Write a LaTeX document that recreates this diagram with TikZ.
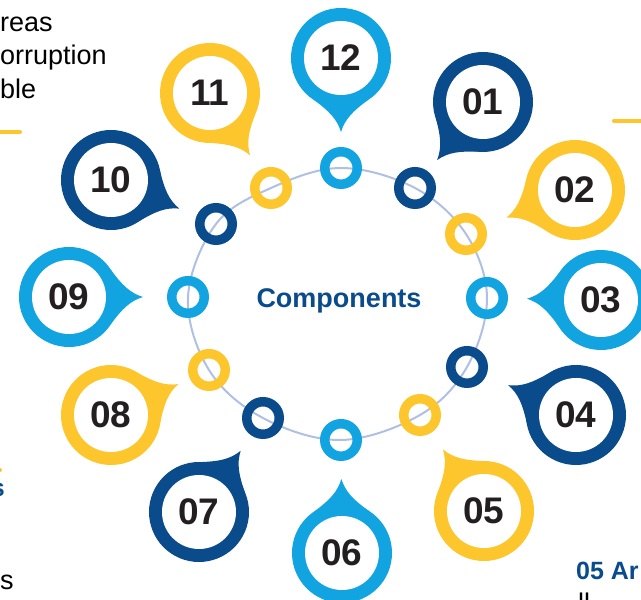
\documentclass[tikz,border=0pt]{standalone}
\usepackage{fontspec}
\setmainfont{Liberation Sans}
\definecolor{lblue}{HTML}{12A4E0}
\definecolor{navy}{HTML}{0A4B8C}
\definecolor{gold}{HTML}{FDC62C}
\definecolor{ringline}{HTML}{AFC0E2}
\definecolor{numink}{HTML}{231F20}
\tikzset{
  pinnum/.style={inner sep=0pt, text=numink, font=\fontsize{37}{37}\selectfont\bfseries},
  ringdot/.style={circle, draw=#1, line width=9.5pt, minimum size=32.5pt, inner sep=0pt},
  bodytext/.style={inner sep=0pt, text=black, font=\fontsize{27}{27}\selectfont},
  headtext/.style={inner sep=0pt, text=navy, font=\fontsize{25}{25}\selectfont\bfseries},
  rule/.style={draw=gold, line width=4pt, line cap=round},
}
% numbered pin: name, x, y, colour, label, target x, target y
% (the tail points at the target marker on the ring)
\newcommand\pinmark[7]{%
  \pgfmathsetmacro\pinang{atan2(#7-#3,#6-#2)}
  \begin{scope}[shift={(#2,#3)}, rotate=\pinang]
    \fill[#4] (0,0) circle[radius=50pt];
    \fill[#4] (74,0) .. controls (61,4) and (53,12) .. (42,27)
      -- (42,-27) .. controls (53,-12) and (61,-4) .. (74,0) -- cycle;
    \fill[white] (0,0) circle[radius=37pt];
  \end{scope}
  \node[pinnum] (#1) at (#2,#3) {#5};
}
\begin{document}
\begin{tikzpicture}[x=1pt, y=1pt]
  \useasboundingbox (0,0) rectangle (641,600);
  \clip (0,0) rectangle (641,600);

  % marker positions on the ring
  \coordinate (c12) at (341,432);
  \coordinate (c01) at (415,412);
  \coordinate (c02) at (466,366);
  \coordinate (c03) at (487,302);
  \coordinate (c04) at (467,233);
  \coordinate (c05) at (420,185);
  \coordinate (c06) at (341,160);
  \coordinate (c07) at (263,182);
  \coordinate (c08) at (209,230);
  \coordinate (c09) at (188,303);
  \coordinate (c10) at (216,376);
  \coordinate (c11) at (271,412);

  % ring through the markers
  \draw[ringline, line width=2pt] plot[smooth cycle, tension=0.6]
    coordinates {(c12) (c01) (c02) (c03) (c04) (c05) (c06) (c07) (c08) (c09) (c10) (c11)};

  % small markers
  \foreach \k/\c in {12/lblue,01/navy,02/gold,03/lblue,04/navy,05/gold,06/lblue,07/navy,08/gold,09/lblue,10/navy,11/gold}{
    \node[ringdot=\c] (dot\k) at (c\k) {};
  }

  % numbered pins
  \pinmark{p12}{341}{542}{lblue}{12}{341}{432}
  \pinmark{p01}{483}{498}{navy}{01}{415}{412}
  \pinmark{p02}{575}{410}{gold}{02}{466}{366}
  \pinmark{p03}{601}{300}{lblue}{03}{487}{302}
  \pinmark{p04}{576}{185}{navy}{04}{467}{233}
  \pinmark{p05}{484}{89}{gold}{05}{420}{185}
  \pinmark{p06}{342}{47}{lblue}{06}{341}{160}
  \pinmark{p07}{199}{88}{navy}{07}{263}{182}
  \pinmark{p08}{111}{185}{gold}{08}{209}{230}
  \pinmark{p09}{69}{303}{lblue}{09}{188}{303}
  \pinmark{p10}{111}{420}{navy}{10}{216}{376}
  \pinmark{p11}{210}{507}{gold}{11}{271}{412}

  % centre title
  \node[inner sep=0pt, text=navy, font=\fontsize{27}{27}\selectfont\bfseries] (title) at (339,299) {Components};

  % text running in from the edges
  \node[bodytext, anchor=base west] (t1) at (0,568) {reas};
  \node[bodytext, anchor=base west] (t2) at (0,535) {orruption};
  \node[bodytext, anchor=base west] (t3) at (0,501) {ble};
  \coordinate (r1a) at (-5,468);
  \coordinate (r1b) at (20,468);
  \draw[rule] (r1a) -- (r1b);
  \coordinate (r2a) at (614,479);
  \coordinate (r2b) at (650,479);
  \draw[rule] (r2a) -- (r2b);
  \coordinate (r3a) at (-10,130);
  \coordinate (r3b) at (0,130);
  \draw[rule] (r3a) -- (r3b);
  \node[headtext, anchor=base east] (t4) at (5,103) {s};
  \node[bodytext, anchor=base west] (t5) at (0,10) {s};
  \node[headtext, anchor=base west] (t6) at (576,20) {05 Ar};
  \node[bodytext, anchor=base west] (t7) at (578,-13) {ll};
\end{tikzpicture}
\end{document}
